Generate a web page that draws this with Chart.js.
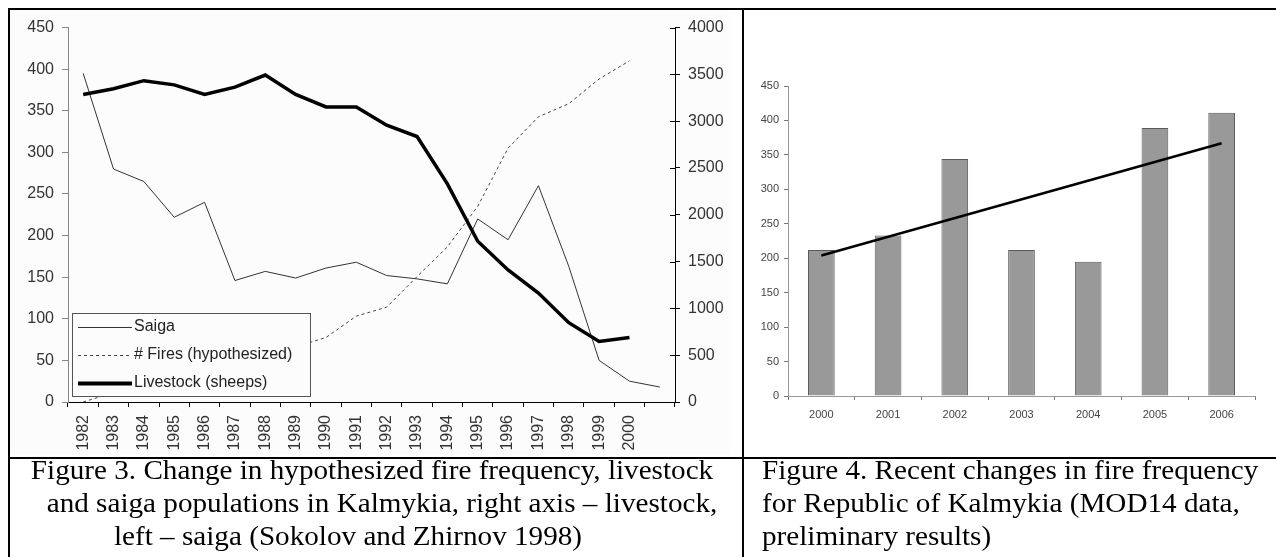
<!DOCTYPE html>
<html>
<head>
<meta charset="utf-8">
<title>Kalmykia fires, livestock and saiga</title>
<script src="https://cdn.jsdelivr.net/npm/chart.js@4.4.1/dist/chart.umd.min.js"></script>
<style>
  html, body { margin: 0; padding: 0; background: #fff; }
  body { width: 1276px; height: 557px; position: relative; overflow: hidden; }
  .rule { position: absolute; background: #000; }
  #leftBg { position: absolute; left: 10px; top: 10px; width: 720px; height: 445px; background: #fbfcfb; }
  #leftBox { position: absolute; left: 10px; top: 10px; width: 732px; height: 447px; }
  #rightBox { position: absolute; left: 744px; top: 10px; width: 532px; height: 447px; }
  .cap {
    position: absolute; top: 454px;
    font-family: "Liberation Serif", "Times New Roman", serif;
    font-size: 27px; line-height: 33px; color: #000; white-space: nowrap;
  }
  .cap div { transform-origin: 50% 50%; }
  #capLeft { left: 10px; width: 732px; text-align: center; }
  #capRight { left: 762px; width: 500px; text-align: left; }
  #capRight div { transform-origin: 0 50%; transform: scaleX(1.08); }
</style>
</head>
<body>
<div id="leftBg"></div>
<div id="leftBox"><canvas id="leftChart" width="732" height="447"></canvas></div>
<div id="rightBox"><canvas id="rightChart" width="532" height="447"></canvas></div>

<div class="rule" style="left:8px;top:8px;width:1268px;height:2px"></div>
<div class="rule" style="left:8px;top:8px;width:2px;height:549px"></div>
<div class="rule" style="left:742px;top:8px;width:2px;height:549px"></div>
<div class="rule" style="left:8px;top:457px;width:1268px;height:2px"></div>

<div class="cap" id="capLeft">
  <div style="transform: translateX(-4px) scaleX(1.08)">Figure 3. Change in hypothesized fire frequency, livestock</div>
  <div style="transform: translateX(6px) scaleX(1.08)">and saiga populations in Kalmykia, right axis – livestock,</div>
  <div style="transform: translateX(-28px) scaleX(1.08)">left – saiga (Sokolov and Zhirnov 1998)</div>
</div>
<div class="cap" id="capRight">
  <div>Figure 4. Recent changes in fire frequency</div>
  <div>for Republic of Kalmykia (MOD14 data,</div>
  <div>preliminary results)</div>
</div>

<script>
// Figure 3 - yillar (son kategori etiketsiz)
const years = ['1982', '1983', '1984', '1985', '1986', '1987', '1988', '1989', '1990', '1991',
               '1992', '1993', '1994', '1995', '1996', '1997', '1998', '1999', '2000', ''];
// sol eksen
const saiga = [395, 280, 265, 222, 240, 146, 157, 149, 161, 168, 152, 148, 142, 220, 195, 260, 163, 50, 25, 18];
// sag eksen
const fires = [0, 100, 200, 280, 350, 430, 510, 590, 689, 918, 1013, 1340, 1657, 2090, 2712, 3047, 3187, 3451, 3645, null];
const livestock = [3286, 3346, 3433, 3388, 3286, 3364, 3493, 3286, 3152, 3152, 2958, 2836, 2330, 1717, 1411, 1164, 847, 647, 689, null];
const leftTicks = [0, 50, 100, 150, 200, 250, 300, 350, 400, 450];
const rightTicks = [0, 500, 1000, 1500, 2000, 2500, 3000, 3500, 4000];

// Figure 4
const modisYears = ['2000', '2001', '2002', '2003', '2004', '2005', '2006'];
const modisFires = [212, 233, 344, 212, 195, 389, 411];
// trend cizgisi uclari
const trendLine = [204, null, null, null, null, null, 367];
const modisTicks = [0, 50, 100, 150, 200, 250, 300, 350, 400, 450];

const sans = '"Liberation Sans", Arial, sans-serif';

// Legend kutusu - grafik alaninin sol alt kosesinde
const legendBox = {
  id: 'legendBox',
  afterDatasetsDraw(chart) {
    const ctx = chart.ctx;
    const area = chart.chartArea;
    const bx = area.left + 4, by = area.bottom - 89, bw = 238, bh = 83;
    ctx.save();
    ctx.fillStyle = '#fbfcfb';
    ctx.fillRect(bx, by, bw, bh);
    ctx.strokeStyle = '#555';
    ctx.lineWidth = 1;
    ctx.strokeRect(bx + 0.5, by + 0.5, bw, bh);
    const rows = [
      { text: 'Saiga', width: 1, dash: [], color: '#333' },
      { text: '# Fires (hypothesized)', width: 1, dash: [3, 3], color: '#444' },
      { text: 'Livestock (sheeps)', width: 4, dash: [], color: '#000' }
    ];
    ctx.font = '16px ' + sans;
    ctx.textBaseline = 'middle';
    rows.forEach((r, i) => {
      const ry = by + 14 + i * 28;
      ctx.beginPath();
      ctx.setLineDash(r.dash);
      ctx.lineWidth = r.width;
      ctx.strokeStyle = r.color;
      ctx.moveTo(bx + 6, Math.round(ry) + 0.5);
      ctx.lineTo(bx + 60, Math.round(ry) + 0.5);
      ctx.stroke();
      ctx.setLineDash([]);
      ctx.fillStyle = '#222';
      ctx.fillText(r.text, bx + 62, ry);
    });
    ctx.restore();
  }
};

// sag eksende cizgiyi kesen kisa isaretler
const innerTicks = {
  id: 'innerTicks',
  afterDraw(chart) {
    const s = chart.scales.y2;
    if (!s) return;
    const ctx = chart.ctx;
    ctx.save();
    ctx.strokeStyle = '#000';
    ctx.lineWidth = 1;
    s.ticks.forEach((t, i) => {
      const py = Math.round(s.getPixelForTick(i)) + 0.5;
      ctx.beginPath();
      ctx.moveTo(s.left - 5, py);
      ctx.lineTo(s.left, py);
      ctx.stroke();
    });
    ctx.restore();
  }
};

const plain = (v) => String(v);

new Chart(document.getElementById('leftChart'), {
  type: 'line',
  data: {
    labels: years,
    datasets: [
      { label: 'Livestock (sheeps)', data: livestock, yAxisID: 'y2', borderColor: '#000', borderWidth: 3.5, pointRadius: 0, tension: 0 },
      { label: 'Saiga', data: saiga, yAxisID: 'y', borderColor: '#333', borderWidth: 1, pointRadius: 0, tension: 0 },
      { label: '# Fires (hypothesized)', data: fires, yAxisID: 'y2', borderColor: '#444', borderWidth: 1, borderDash: [3, 3], pointRadius: 0, tension: 0 }
    ]
  },
  options: {
    responsive: false,
    animation: false,
    layout: { padding: { top: 13, left: 0, right: 0, bottom: 0 } },
    plugins: { legend: { display: false }, tooltip: { enabled: false } },
    scales: {
      x: {
        offset: true,
        grid: { offset: true, drawOnChartArea: false, tickLength: 5, color: '#000' },
        border: { color: '#000' },
        ticks: { autoSkip: false, minRotation: 90, maxRotation: 90, padding: 8, color: '#333', font: { family: sans, size: 16 } },
        afterFit: (s) => { s.height = 55; }
      },
      y: {
        position: 'left',
        min: 0, max: 450,
        afterBuildTicks: (s) => { s.ticks = leftTicks.map(v => ({ value: v })); },
        grid: { drawOnChartArea: false, tickLength: 6, color: '#888' },
        border: { color: '#888' },
        ticks: { padding: 8, color: '#333', font: { family: sans, size: 16 }, callback: plain },
        afterFit: (s) => { s.width = 58; }
      },
      y2: {
        position: 'right',
        min: 0, max: 4000,
        afterBuildTicks: (s) => { s.ticks = rightTicks.map(v => ({ value: v })); },
        grid: { drawOnChartArea: false, tickLength: 5, color: '#000' },
        border: { color: '#000' },
        ticks: { padding: 8, color: '#333', font: { family: sans, size: 16 }, callback: plain },
        afterFit: (s) => { s.width = 67; }
      }
    }
  },
  plugins: [legendBox, innerTicks]
});

new Chart(document.getElementById('rightChart'), {
  type: 'bar',
  data: {
    labels: modisYears,
    datasets: [
      { type: 'line', label: 'Trend', data: trendLine, spanGaps: true, borderColor: '#000', borderWidth: 2.5, pointRadius: 0 },
      { label: 'Fires', data: modisFires, backgroundColor: '#999999', borderColor: '#5a5a5a', borderWidth: 1, barPercentage: 0.4, categoryPercentage: 1 }
    ]
  },
  options: {
    responsive: false,
    animation: false,
    layout: { padding: { top: 76, left: 0, right: 21, bottom: 0 } },
    plugins: { legend: { display: false }, tooltip: { enabled: false } },
    scales: {
      x: {
        grid: { offset: true, drawOnChartArea: false, tickLength: 4, color: '#777' },
        border: { color: '#999' },
        ticks: { padding: 8, color: '#444', font: { family: sans, size: 11 } },
        afterFit: (s) => { s.height = 61; }
      },
      y: {
        min: 0, max: 450,
        afterBuildTicks: (s) => { s.ticks = modisTicks.map(v => ({ value: v })); },
        grid: { drawOnChartArea: false, tickLength: 4, color: '#777' },
        border: { color: '#999' },
        ticks: { padding: 5, color: '#444', font: { family: sans, size: 11 }, callback: plain },
        afterFit: (s) => { s.width = 44; }
      }
    }
  }
});
</script>
</body>
</html>
